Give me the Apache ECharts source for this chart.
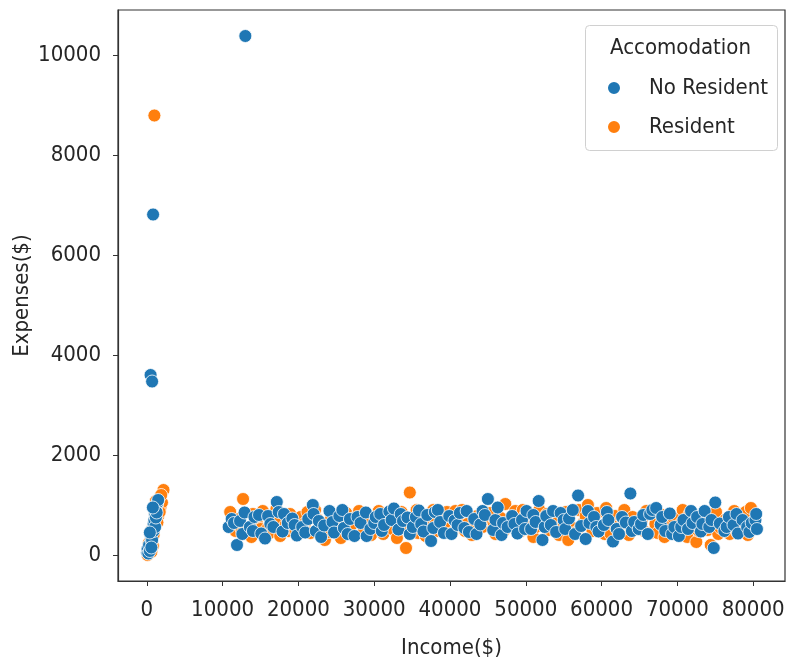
<!DOCTYPE html>
<html>
<head>
<meta charset="utf-8">
<script src="https://cdn.jsdelivr.net/npm/echarts@6/dist/echarts.min.js"></script>
<style>
  html, body { margin: 0; padding: 0; background: #fff; }
  #chart { width: 787px; height: 667px; }
</style>
</head>
<body>
<div id="chart"></div>
<script>
// Income($), Expenses($) pairs
var noResident = [
    [13000, 10380], [830, 6810], [500, 3600], [700, 3470],
    [50, 50], [100, 120], [200, 30], [300, 200], [400, 80], [500, 400], [600, 300], [700, 460],
    [800, 520], [900, 620], [1000, 700], [1100, 800], [1200, 900], [1300, 1000], [1400, 1050],
    [1500, 1100], [700, 300], [900, 480], [1100, 560], [1200, 750], [400, 450], [600, 150],
    [1300, 850], [800, 950],
    [10800, 560], [11200, 720], [11500, 640], [11900, 200], [12300, 680], [12600, 420], [12900, 850],
    [13600, 560], [14000, 480], [14200, 760], [14800, 800], [15100, 430], [15600, 330], [16000, 780],
    [16300, 620], [16700, 560], [17150, 1060], [17400, 860], [17900, 470], [18100, 820], [18600, 640],
    [19200, 730], [19500, 600], [19800, 390], [20500, 560], [20900, 450], [21300, 720], [21900, 1000],
    [22000, 820], [22300, 480], [22700, 680], [23000, 360], [23400, 590], [24100, 880], [24500, 660],
    [24700, 450], [25400, 780], [25800, 900], [26000, 540], [26500, 420], [26800, 720], [27400, 380],
    [27800, 760], [28200, 640], [28900, 850], [29000, 380], [29500, 520], [30000, 640], [30200, 760],
    [30800, 820], [31000, 480], [31300, 600], [32000, 870], [32300, 700], [32600, 930], [33200, 510],
    [33500, 820], [33800, 680], [34400, 750], [34700, 420], [35100, 560], [35500, 760], [35900, 890],
    [36200, 620], [36500, 470], [37000, 800], [37500, 280], [37800, 540], [38000, 860], [38400, 900],
    [38700, 660], [39200, 440], [39900, 780], [40200, 420], [40600, 690], [41000, 600], [41300, 840],
    [41900, 540], [42200, 880], [42500, 460], [43200, 720], [43500, 420], [44000, 610], [44300, 880],
    [44600, 800], [45000, 1120], [45700, 500], [46000, 700], [46300, 950], [46800, 400], [47000, 640],
    [47600, 560], [48200, 780], [48500, 620], [48900, 430], [49500, 700], [49900, 520], [50100, 880],
    [50700, 520], [51000, 800], [51300, 660], [51700, 1080], [52200, 300], [52500, 560], [52700, 780],
    [53300, 600], [53600, 880], [54000, 460], [54600, 840], [55000, 700], [55200, 520], [55700, 730],
    [56200, 900], [56500, 420], [56900, 1190], [57300, 580], [57900, 320], [58200, 880], [58400, 640],
    [59000, 760], [59300, 560], [59600, 470], [60300, 600], [60700, 860], [60900, 700], [61500, 270],
    [62000, 520], [62300, 420], [62700, 760], [63200, 650], [63800, 1230], [64000, 480], [64300, 660],
    [64900, 520], [65200, 620], [65500, 800], [66100, 420], [66400, 820], [66700, 900], [67200, 940],
    [67800, 610], [68000, 760], [68400, 480], [69000, 830], [69300, 420], [69600, 560], [70200, 380],
    [70500, 560], [70800, 700], [71400, 520], [71800, 880], [72000, 640], [72600, 760], [73100, 470],
    [73300, 620], [73600, 880], [74200, 560], [74500, 700], [74800, 140], [75000, 1050], [75600, 630],
    [76200, 480], [76500, 560], [76800, 760], [77400, 600], [77800, 820], [78000, 430], [78600, 700],
    [79200, 560], [79500, 460], [79800, 640], [80300, 700], [80400, 820], [80500, 520]
];
var resident = [
    [1000, 8790],
    [100, 0], [300, 250], [500, 100], [600, 60], [800, 180], [1000, 560], [1100, 830], [1300, 880],
    [1500, 780], [1600, 1000], [1800, 950], [2000, 1050], [2200, 1300], [1900, 1200], [1400, 650],
    [900, 400], [700, 520], [1200, 1080], [1700, 860],
    [11000, 860], [11400, 600], [11700, 480], [12200, 720], [12500, 520], [12700, 1120], [13200, 420],
    [13800, 360], [14000, 820], [14500, 640], [15000, 520], [15300, 880], [15900, 520], [16200, 440],
    [16500, 760], [17100, 920], [17300, 700], [17600, 380], [18300, 600], [18700, 480], [18900, 820],
    [19600, 480], [20000, 620], [20300, 760], [20900, 640], [21200, 860], [21600, 440], [22200, 900],
    [22500, 720], [22800, 560], [23500, 300], [24000, 460], [24300, 720], [25000, 520], [25300, 680],
    [25600, 340], [26300, 840], [26600, 480], [27000, 600], [27700, 780], [28000, 880], [28500, 440],
    [29200, 700], [29600, 400], [29900, 580], [30400, 700], [30600, 880], [31200, 420], [31600, 560],
    [31800, 740], [32400, 520], [32700, 800], [33000, 340], [33600, 860], [34000, 600], [34200, 140],
    [34700, 1250], [35300, 620], [35600, 900], [35800, 440], [36400, 760], [36800, 380], [37100, 560],
    [37800, 900], [38100, 660], [38400, 480], [39000, 700], [39300, 540], [39600, 860], [40300, 440],
    [40700, 880], [41000, 760], [41600, 900], [42000, 480], [42300, 620], [42900, 400], [43300, 600],
    [43600, 780], [44300, 560], [44800, 720], [45300, 840], [45800, 600], [46000, 420], [46700, 740],
    [47100, 480], [47300, 1020], [47900, 600], [48300, 700], [48600, 880], [49300, 470], [49600, 900],
    [49900, 780], [50500, 560], [51000, 360], [51300, 560], [51800, 900], [52400, 680], [52800, 820],
    [53000, 500], [53700, 820], [54100, 640], [54400, 400], [55000, 620], [55300, 860], [55600, 300],
    [56300, 540], [56700, 460], [57000, 900], [57600, 640], [57900, 780], [58200, 1000], [58800, 480],
    [59100, 640], [59400, 840], [60000, 560], [60400, 420], [60600, 940], [61200, 420], [61600, 600],
    [61800, 780], [62400, 600], [62800, 720], [63000, 900], [63600, 400], [64100, 760], [64400, 580],
    [64700, 520], [65300, 700], [65600, 480], [65900, 880], [66500, 440], [67100, 620], [67400, 440],
    [67700, 820], [68300, 360], [68600, 700], [68900, 560], [69500, 740], [70100, 440], [70400, 620],
    [70700, 900], [71300, 360], [71600, 820], [71900, 600], [72500, 260], [72800, 480], [73000, 780],
    [73500, 640], [74000, 500], [74200, 780], [74400, 200], [75100, 860], [75400, 420], [75700, 540],
    [76300, 700], [76600, 620], [76900, 420], [77500, 880], [77900, 460], [78100, 560], [78700, 740],
    [79000, 860], [79300, 400], [79700, 940], [80000, 540], [80200, 660]
];
var xTicks = [0, 10000, 20000, 30000, 40000, 50000, 60000, 70000, 80000];
var yTicks = [0, 2000, 4000, 6000, 8000, 10000];

var font = "'DejaVu Sans Condensed', 'Liberation Sans Narrow', 'DejaVu Sans', sans-serif";
var textColor = '#262626';

var myChart = echarts.init(document.getElementById('chart'));
var option = {
    backgroundColor: '#fff',
    animation: false,
    textStyle: { fontFamily: font },
    grid: {
        left: 118, right: 2, top: 10, bottom: 86,
        outerBoundsMode: 'none',
        show: true, borderColor: '#333', borderWidth: 1.2
    },
    graphic: [
        {
            type: 'rect', left: 585, top: 25,
            shape: { width: 192, height: 125, r: 4 },
            style: { fill: '#fff', stroke: '#d0d0d0', lineWidth: 1 },
            z: 50
        },
        {
            type: 'text', left: 610, top: 37,
            style: { text: 'Accomodation', fontSize: 22, fontFamily: font, fill: textColor },
            z: 51
        }
    ],
    legend: {
        orient: 'vertical',
        left: 601, top: 72,
        itemWidth: 60, itemHeight: 14, itemGap: 17,
        icon: 'circle',
        textStyle: { fontSize: 22, lineHeight: 22, color: textColor, fontFamily: font },
        data: ['No Resident', 'Resident'],
        z: 52
    },
    xAxis: {
        type: 'value', min: -3800, max: 84200,
        name: 'Income($)', nameLocation: 'middle', nameGap: 56,
        nameTextStyle: { fontSize: 22, color: textColor, fontFamily: font },
        axisLine: { onZero: false, lineStyle: { color: '#333', width: 1.2 } },
        axisTick: { show: true, length: 5, customValues: xTicks, lineStyle: { color: '#333' } },
        axisLabel: {
            customValues: xTicks, fontSize: 22, margin: 18, color: textColor, fontFamily: font,
            formatter: function (v) { return String(v); }
        },
        splitLine: { show: false }
    },
    yAxis: {
        type: 'value', min: -520, max: 10900,
        name: 'Expenses($)', nameLocation: 'middle', nameGap: 85,
        nameMoveOverlap: false,
        nameTextStyle: { fontSize: 22, color: textColor, fontFamily: font },
        axisLine: { onZero: false, lineStyle: { color: '#333', width: 1.2 } },
        axisTick: { show: true, length: 5, customValues: yTicks, lineStyle: { color: '#333' } },
        axisLabel: {
            customValues: yTicks, fontSize: 22, margin: 17, color: textColor, fontFamily: font,
            formatter: function (v) { return String(v); }
        },
        splitLine: { show: false }
    },
    series: [
        {
            name: 'Resident', type: 'scatter', symbolSize: 13,
            itemStyle: { color: '#ff7f0e', borderColor: '#fff', borderWidth: 0.8, opacity: 1 },
            data: resident
        },
        {
            name: 'No Resident', type: 'scatter', symbolSize: 13,
            itemStyle: { color: '#1f77b4', borderColor: '#fff', borderWidth: 0.8, opacity: 1 },
            data: noResident
        }
    ]
};
myChart.setOption(option);
</script>
</body>
</html>
